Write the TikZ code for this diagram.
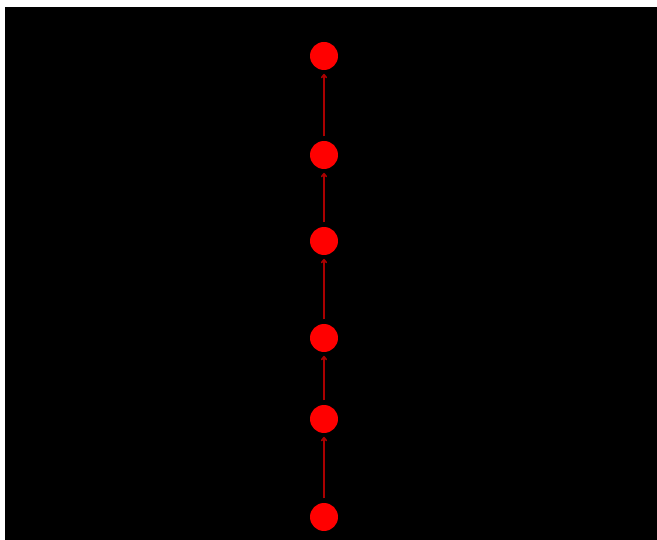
\documentclass[tikz,border=0pt]{standalone}
\usepackage{xcolor}
\usepackage{tikz}
\usetikzlibrary{arrows.meta}

\definecolor{dotred}{RGB}{255,0,0}
\definecolor{linkred}{RGB}{170,0,0}

\begin{document}
\begin{tikzpicture}[x=0.02cm, y=-0.02cm,
    dot/.style={circle, fill=dotred, draw=none, minimum size=0.56cm, inner sep=0pt},
    link/.style={-{To[length=2.5pt,width=3.5pt]}, linkred, line width=0.9pt, shorten <=2.5pt, shorten >=2pt}
]

\useasboundingbox (0,0) rectangle (657,540);
\fill[white] (0,0) rectangle (657,540);
\fill[black] (5,7) rectangle (657,540);

\node[dot] (n1) at (324, 56) {};
\node[dot] (n2) at (324, 155) {};
\node[dot] (n3) at (324, 241) {};
\node[dot] (n4) at (324, 338) {};
\node[dot] (n5) at (324, 419) {};
\node[dot] (n6) at (324, 517) {};

\draw[link] (n2) -- (n1);
\draw[link] (n3) -- (n2);
\draw[link] (n4) -- (n3);
\draw[link] (n5) -- (n4);
\draw[link] (n6) -- (n5);

\end{tikzpicture}
\end{document}
